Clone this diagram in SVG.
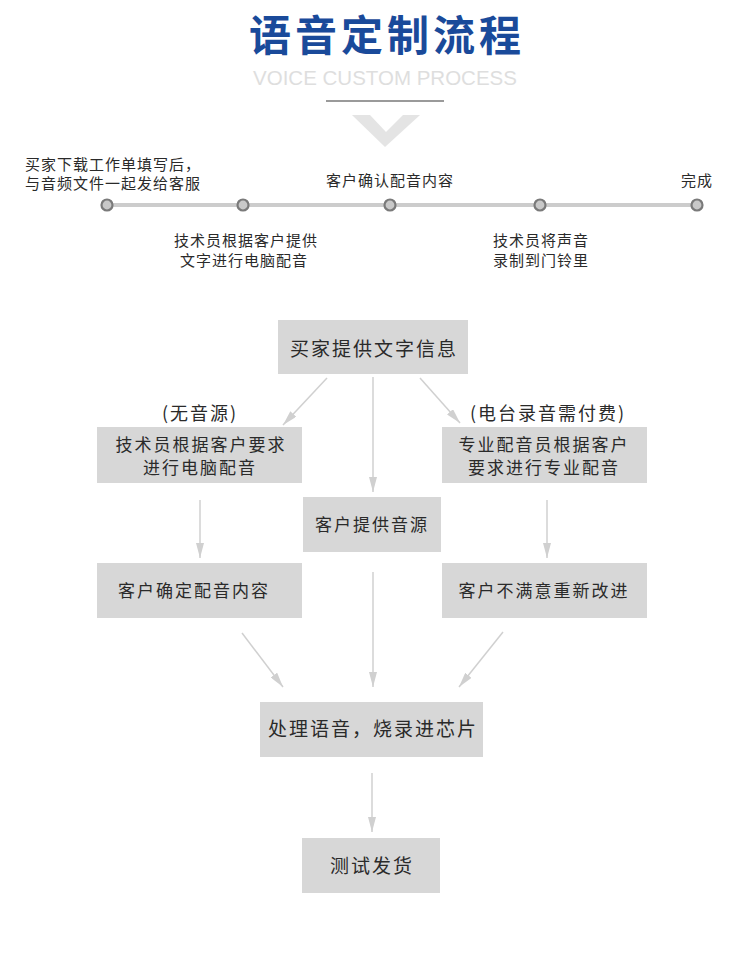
<svg xmlns="http://www.w3.org/2000/svg" width="750" height="955" viewBox="0 0 750 955">
  <style>
    .cjk { font-family: "Noto Sans CJK SC", "Noto Sans", sans-serif; fill: #2a2a2a; }
    .tl { font-size: 15px; letter-spacing: 1px; }
    .box { fill: #d7d7d7; }
    .bt { font-size: 17px; letter-spacing: 2px; text-anchor: middle; }
    .bt-l { font-size: 19px; letter-spacing: 2px; text-anchor: middle; }
    .lbl { font-size: 18px; letter-spacing: 2px; text-anchor: middle; }
    .arrow { stroke: #d0d0d0; stroke-width: 1.5; fill: none; marker-end: url(#ah); }
    .dot { fill: #c8c8c8; stroke: #7a7a7a; stroke-width: 2.2; }
  </style>
  <defs>
    <marker id="ah" viewBox="0 0 15 8" refX="15" refY="4" markerWidth="15" markerHeight="8" markerUnits="userSpaceOnUse" orient="auto">
      <path d="M0,0 L15,4 L0,8 z" fill="#d0d0d0"/>
    </marker>
  </defs>
  <rect width="750" height="955" fill="#ffffff"/>

  <g id="header">
    <text x="387" y="51" text-anchor="middle" font-family="Noto Sans CJK SC, Noto Sans, sans-serif" font-size="42" font-weight="bold" letter-spacing="4" fill="#1a4a9a">语音定制流程</text>
    <text x="385" y="85" text-anchor="middle" font-family="Liberation Sans, Arial, sans-serif" font-size="20.5" fill="#dedede">VOICE CUSTOM PROCESS</text>
    <line x1="326" y1="101" x2="444" y2="101" stroke="#9a9a9a" stroke-width="2"/>
    <polygon points="352,115 370,115 386,132 403,115 420,115 385,147" fill="#e4e4e4"/>
  </g>

  <g id="timeline">
    <line x1="107" y1="205" x2="697" y2="205" stroke="#cccccc" stroke-width="4"/>
    <circle class="dot" cx="107" cy="205" r="5.5"/>
    <circle class="dot" cx="243" cy="205" r="5.5"/>
    <circle class="dot" cx="390" cy="205" r="5.5"/>
    <circle class="dot" cx="540" cy="205" r="5.5"/>
    <circle class="dot" cx="697" cy="205" r="5.5"/>
    <text class="cjk tl" x="25" y="170">买家下载工作单填写后，</text>
    <text class="cjk tl" x="25" y="189">与音频文件一起发给客服</text>
    <text class="cjk tl" x="390" y="186" text-anchor="middle">客户确认配音内容</text>
    <text class="cjk tl" x="697" y="186" text-anchor="middle">完成</text>
    <text class="cjk tl" x="246" y="246" text-anchor="middle">技术员根据客户提供</text>
    <text class="cjk tl" x="244" y="266" text-anchor="middle">文字进行电脑配音</text>
    <text class="cjk tl" x="541" y="246" text-anchor="middle">技术员将声音</text>
    <text class="cjk tl" x="541" y="266" text-anchor="middle">录制到门铃里</text>
  </g>

  <g id="connectors">
    <line class="arrow" x1="327" y1="378" x2="283" y2="425"/>
    <line class="arrow" x1="373" y1="377" x2="373" y2="492"/>
    <line class="arrow" x1="420" y1="378" x2="460" y2="423"/>
    <line class="arrow" x1="200" y1="500" x2="200" y2="558"/>
    <line class="arrow" x1="547" y1="500" x2="547" y2="558"/>
    <line class="arrow" x1="373" y1="572" x2="373" y2="687"/>
    <line class="arrow" x1="242" y1="633" x2="283" y2="687"/>
    <line class="arrow" x1="503" y1="632" x2="459" y2="687"/>
    <line class="arrow" x1="372" y1="773" x2="372" y2="832"/>
  </g>

  <g id="labels">
    <text class="cjk lbl" x="200" y="420">(无音源)</text>
    <text class="cjk lbl" x="548" y="420">(电台录音需付费)</text>
  </g>

  <g id="node-a">
    <rect class="box" x="278" y="320" width="190" height="54"/>
    <text class="cjk bt-l" x="374" y="356">买家提供文字信息</text>
  </g>
  <g id="node-b">
    <rect class="box" x="97" y="427" width="205" height="56"/>
    <text class="cjk bt" x="201" y="451">技术员根据客户要求</text>
    <text class="cjk bt" x="200" y="474">进行电脑配音</text>
  </g>
  <g id="node-c">
    <rect class="box" x="442" y="427" width="205" height="56"/>
    <text class="cjk bt" x="544" y="451">专业配音员根据客户</text>
    <text class="cjk bt" x="544" y="474">要求进行专业配音</text>
  </g>
  <g id="node-d">
    <rect class="box" x="303" y="497" width="138" height="55"/>
    <text class="cjk bt" x="372" y="531" letter-spacing="1">客户提供音源</text>
  </g>
  <g id="node-e">
    <rect class="box" x="97" y="563" width="205" height="55"/>
    <text class="cjk bt" x="194" y="597">客户确定配音内容</text>
  </g>
  <g id="node-f">
    <rect class="box" x="442" y="563" width="205" height="55"/>
    <text class="cjk bt" x="544" y="597">客户不满意重新改进</text>
  </g>
  <g id="node-g">
    <rect class="box" x="260" y="702" width="223" height="55"/>
    <text class="cjk bt-l" x="373" y="736">处理语音，烧录进芯片</text>
  </g>
  <g id="node-h">
    <rect class="box" x="302" y="838" width="138" height="55"/>
    <text class="cjk bt-l" x="372" y="873">测试发货</text>
  </g>
</svg>
